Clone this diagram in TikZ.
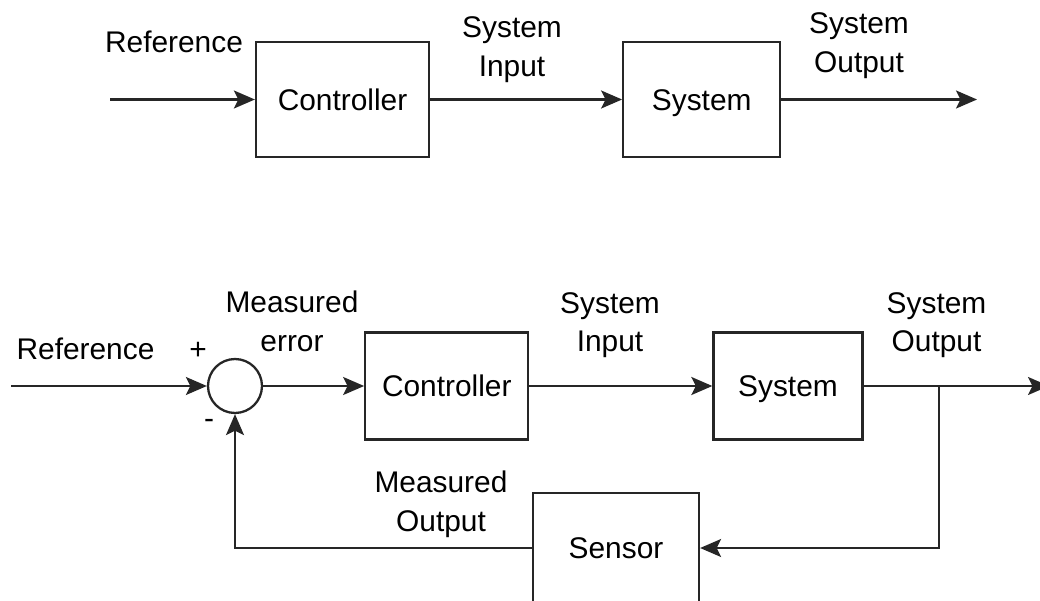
\documentclass[tikz,border=0pt]{standalone}
\usepackage{fontspec}
\setmainfont{Liberation Sans}
\usetikzlibrary{positioning, arrows.meta}

\begin{document}
\begin{tikzpicture}[
	x=0.02cm, y=-0.02cm,
	font=\fontsize{17pt}{22pt}\selectfont,
	blk/.style={rectangle, draw=black!85, line width=1.3pt, inner sep=0, text height=0.43cm, text depth=0cm},
	sumnode/.style={circle, draw=black!85, line width=1.3pt, minimum size=1.08cm, inner sep=0},
	lbl/.style={align=center, inner sep=0},
	sig/.style={-{Stealth[length=0.42cm, width=0.36cm, inset=0.09cm]}, line width=1.3pt, draw=black!85},
	]
	\useasboundingbox (0,0) rectangle (1040,601);

		%Open loop
    \coordinate       (in1)  at (110,99.5);
    \node[blk, minimum width=3.46cm, minimum height=2.3cm] (C1) at (342.5,99.5) {Controller};
    \node[blk, minimum width=3.14cm, minimum height=2.3cm] (S1) [right=3.84cm of C1] {System};
    \coordinate       (out1) at (977,99.5);

    \node[lbl, anchor=base] (ref1) at (174,53)   {Reference};
    \node[lbl]         (u1)   at (512,50)   {System\\Input};
    \node[lbl]         (y1)   at (859,46)   {System\\Output};

		%Closed loop
    \coordinate       (in2)  at (11,386);
    \node[sumnode]    (Sum)  at (235,386)   {};
    \node[blk, minimum width=3.26cm, minimum height=2.14cm] (C2) [right=2.02cm of Sum] {Controller};
    \node[blk, minimum width=2.98cm, minimum height=2.14cm] (S2) [right=3.66cm of C2] {System};
    \coordinate       (out2) at (1049,386);
    \coordinate       (br)   at (939,386);
    \node[blk, minimum width=3.32cm, minimum height=2.2cm] (Sen) at (616,548) {Sensor};

    \node[lbl, anchor=base] (ref2) at (85.5,359) {Reference};
    \node[lbl]         (plus)  at (198,351)  {+};
    \node[lbl]         (minus) at (209,424)  {-};
    \node[lbl]         (err)   at (292,321)  {Measured\\error};
    \node[lbl]         (u2)    at (610,325)  {System\\Input};
    \node[lbl]         (y2)    at (936.5,325) {System\\Output};
    \node[lbl]         (ym)    at (441,504)  {Measured\\Output};

		%Lines
		\draw[sig] (in1) to (C1);
		\draw[sig] (C1) to (S1);
		\draw[sig] (S1) to (out1);

		\draw[sig] (in2) to (Sum);
		\draw[sig] (Sum) to (C2);
		\draw[sig] (C2) to (S2);
		\draw[sig] (S2.east) to (out2);
		\draw[sig] (br) |- (Sen.east);
		\draw[sig] (Sen.west) -| (Sum.south);
	\end{tikzpicture}
\end{document}
